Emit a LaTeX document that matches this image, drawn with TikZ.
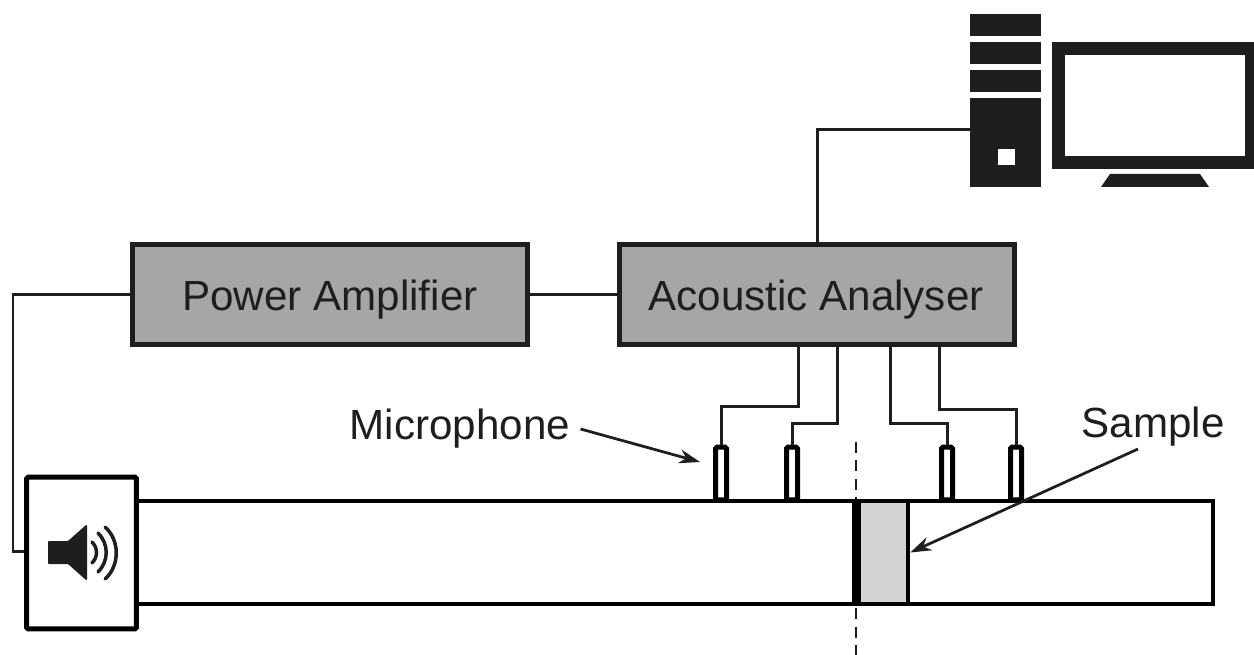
\documentclass[tikz,border=0pt]{standalone}
\usepackage{fontspec}
\setmainfont{Liberation Sans}
\usepackage{xcolor}
\usetikzlibrary{positioning,arrows.meta}
\definecolor{inkdark}{HTML}{1E1E1E}
\begin{document}
\begin{tikzpicture}[
		x=0.02cm, y=-0.02cm,
		instr/.style={draw=inkdark, line width=0.1cm, fill=black!35, rectangle,
				minimum width=7.92cm, minimum height=2.02cm, align=center, inner sep=0pt, font=\fontsize{24}{28}\selectfont, text=inkdark},
		tubebox/.style={draw=black, line width=0.09cm, fill=white, rectangle,
				minimum width=21.52cm, minimum height=2.06cm, inner sep=0pt},
		spkbox/.style={draw=black, line width=0.1cm, fill=white, rectangle, rounded corners=1pt,
				minimum width=2.2cm, minimum height=3.04cm, inner sep=0pt},
		micbox/.style={draw=black, line width=0.1cm, fill=white, rectangle, rounded corners=1pt,
				minimum width=0.22cm, minimum height=1.06cm, inner sep=0pt},
		samplebox/.style={draw=black, line width=0.09cm, fill=black!17, rectangle,
				minimum width=1.04cm, minimum height=2.06cm, inner sep=0pt},
		slab/.style={fill=inkdark, rectangle, minimum width=1.42cm, inner sep=0pt},
		lab/.style={inner sep=0pt, font=\fontsize{24}{28}\selectfont, text=inkdark},
		wire/.style={draw=inkdark, line width=0.06cm},
		pointer/.style={-{Stealth[length=0.42cm,width=0.28cm]}, draw=inkdark, line width=0.055cm},
		axisline/.style={draw=inkdark, line width=0.05cm, dash pattern=on 0.22cm off 0.15cm},
		wave/.style={draw=inkdark, line width=0.07cm, line cap=round},
	]
	\useasboundingbox (0,0) rectangle (1254,655);
	\node[slab, minimum height=0.44cm] (slaba) at (1005.5, 25) {};
	\node[slab, minimum height=0.44cm] (slabb) at (1005.5, 53) {};
	\node[slab, minimum height=0.44cm] (slabc) at (1005.5, 81) {};
	\node[slab, minimum height=1.78cm] (tower) at (1005.5,142.5) {};
	\node[fill=white, minimum width=0.34cm, minimum height=0.32cm, inner sep=0pt] (led) at (1006.5,157) {};
	\fill[inkdark] (1052,42) rectangle (1254,169);
	\fill[white] (1065,55) rectangle (1245,156);
	\fill[inkdark] (1101,187) -- (1110,174) -- (1200,174) -- (1209,187) -- cycle;
	\node[instr] (amp) at (330,294.5) {};
	\node[lab] (amplab) at (330,300) {Power Amplifier};
	\node[instr] (ana) at (817,294.5) {};
	\node[lab] (analab) at (816,300) {Acoustic Analyser};
	\draw[wire] (ana.north) |- (tower.west |- 0,130);
	\draw[wire] (amp.east) -- (ana.west);
	\coordinate (axtop) at (856,442);
	\coordinate (axbot) at (856,655);
	\draw[axisline] (axtop) -- (axbot);
	\node[tubebox] (tube) at (675,552.5) {};
	\node[samplebox] (sample) at (882,552.5) {};
	\fill[black] (852,501) rectangle (861,604);
	\node[spkbox] (spk) at (81.5,553) {};
	\draw[wire] (amp.west) -| (13,551) -- (spk.west |- 0,551);
	\fill[inkdark, rounded corners=0.5pt] (48,541) -- (68,541) -- (86,525) -- (87,525) -- (87,580) -- (86,580) -- (68,564) -- (48,564) -- cycle;
	\draw[wave] (92,542) .. controls (98,548) and (98,557) .. (92,563);
	\draw[wave] (98,533) .. controls (109,544) and (109,561) .. (98,572);
	\draw[wave] (105,527) .. controls (120,540) and (120,566) .. (105,579);
	\node[micbox] (mica) at ( 721,473.5) {};
	\node[micbox] (micb) at ( 792,473.5) {};
	\node[micbox] (micc) at ( 947,473.5) {};
	\node[micbox] (micd) at (1016,473.5) {};
	\draw[wire] (ana.south -| 798,0) -- (798,406) -| (mica.north);
	\draw[wire] (ana.south -| 837,0) -- (837,423) -| (micb.north);
	\draw[wire] (ana.south -| 890,0) -- (890,423) -| (micc.north);
	\draw[wire] (ana.south -| 939,0) -- (939,409) -| (micd.north);
	\node[lab] (miclab) at (460,429) {Microphone};
	\node[lab] (samlab) at (1153,427) {Sample};
	\coordinate (micto) at (700,462);
	\coordinate (samfrom) at (1138,449);
	\draw[pointer] ([xshift=0.2cm]miclab.east) -- (micto);
	\draw[pointer] (samfrom) -- (sample.east);
\end{tikzpicture}
\end{document}
